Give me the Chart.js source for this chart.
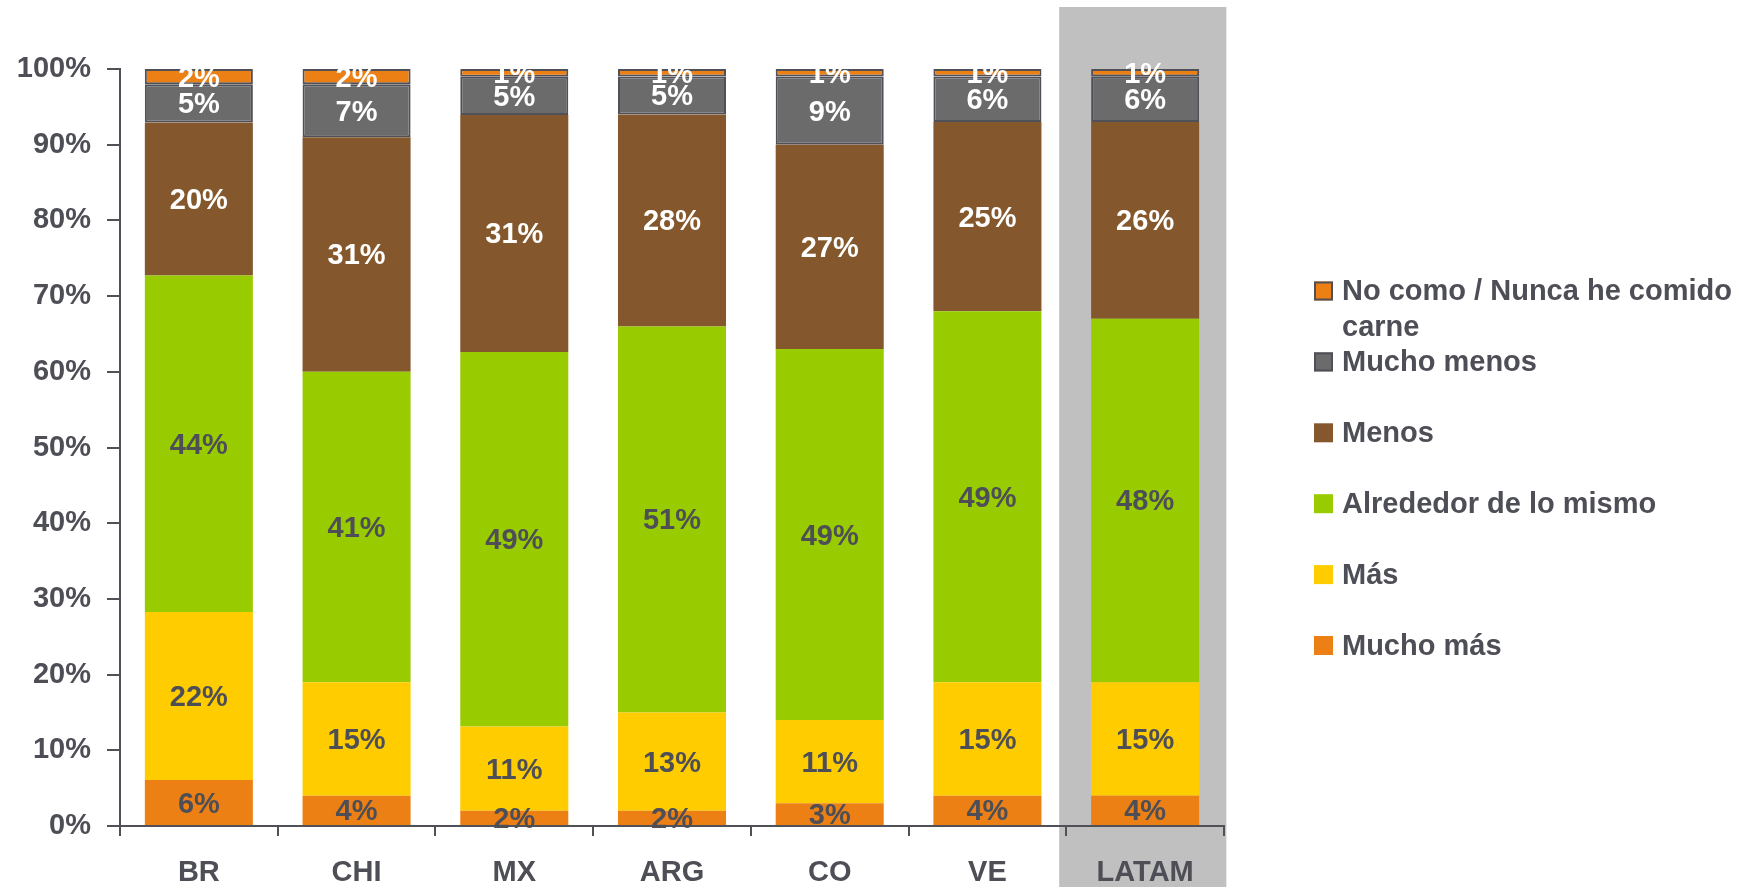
<!DOCTYPE html>
<html>
<head>
<meta charset="utf-8">
<script src="https://cdn.jsdelivr.net/npm/chart.js@4.4.1/dist/chart.umd.min.js"></script>
<style>
  html, body { margin: 0; padding: 0; background: #ffffff; }
  #wrap { width: 1764px; height: 887px; position: relative; }
</style>
</head>
<body>
<div id="wrap"><canvas id="chart" width="1764" height="887"></canvas></div>
<script>
// Countries / regions on the x axis
const categories = ['BR', 'CHI', 'MX', 'ARG', 'CO', 'VE', 'LATAM'];

// Answer shares in percent, bottom of the stack to top
const muchoMas   = [6, 4, 2, 2, 3, 4, 4];
const mas        = [22, 15, 11, 13, 11, 15, 15];
const alrededor  = [44, 41, 49, 51, 49, 49, 48];
const menos      = [20, 31, 31, 28, 27, 25, 26];
const muchoMenos = [5, 7, 5, 5, 9, 6, 6];
const noComo     = [2, 2, 1, 1, 1, 1, 1];

const seriesNames = ['Mucho más', 'Más', 'Alrededor de lo mismo', 'Menos', 'Mucho menos', 'No como / Nunca he comido carne'];
const seriesValues = [muchoMas, mas, alrededor, menos, muchoMenos, noComo];

// y-axis tick values (rendered with a % sign)
const yTicks = [0, 10, 20, 30, 40, 50, 60, 70, 80, 90, 100];

const TEXT = '#4d4e56';
const EDGE = '#505058';
const colors = ['#ec8015', '#ffcc00', '#99cc00', '#84582c', '#6b6b6b', '#ec8015'];
const borders = [0, 0, 0, 0, 2, 2];
const labelColors = [TEXT, TEXT, TEXT, '#ffffff', '#ffffff', '#ffffff'];
const highlighted = 'LATAM';

// 100% stacked: each bar is normalised by its column total
const totals = categories.map((_, i) => seriesValues.reduce((s, arr) => s + arr[i], 0));

const datasets = seriesNames.map((name, k) => ({
  label: name,
  data: seriesValues[k].map((v, i) => v / totals[i] * 100),
  raw: seriesValues[k],
  backgroundColor: colors[k],
  borderColor: EDGE,
  borderWidth: borders[k],
  borderSkipped: false,
  labelColor: labelColors[k],
  categoryPercentage: 1,
  barPercentage: 0.685
}));

const FONT = "'Liberation Sans', Arial, sans-serif";

// Grey panel behind the regional total column
const highlightPlugin = {
  id: 'highlight',
  beforeDraw(chart) {
    const x = chart.scales.x;
    const idx = categories.indexOf(highlighted);
    if (idx < 0) return;
    const cw = (x.right - x.left) / categories.length;
    const cx = x.getPixelForValue(idx);
    const ctx = chart.ctx;
    ctx.save();
    ctx.fillStyle = '#c0c0c0';
    ctx.fillRect(cx - cw * 0.545, chart.chartArea.top - 62, cw * 1.06, chart.height);
    ctx.restore();
  }
};

// Percentage labels centred in each segment
const valueLabels = {
  id: 'valueLabels',
  afterDatasetsDraw(chart) {
    const ctx = chart.ctx;
    ctx.save();
    ctx.font = 'bold 29px ' + FONT;
    ctx.textAlign = 'center';
    ctx.textBaseline = 'middle';
    chart.data.datasets.forEach((ds, k) => {
      const meta = chart.getDatasetMeta(k);
      meta.data.forEach((bar, i) => {
        const y = (bar.y + bar.base) / 2;
        ctx.fillStyle = ds.labelColor;
        ctx.fillText(ds.raw[i] + '%', bar.x, y + 2);
      });
    });
    ctx.restore();
  }
};

// Legend on the right, top series first
const sideLegend = {
  id: 'sideLegend',
  afterDraw(chart) {
    const ctx = chart.ctx;
    const ds = chart.data.datasets;
    const boxX = 1314, textX = 1342, startY = 291, step = 70.9, box = 19;
    ctx.save();
    ctx.font = 'bold 29px ' + FONT;
    ctx.textBaseline = 'middle';
    ctx.textAlign = 'left';
    for (let n = 0; n < ds.length; n++) {
      const d = ds[ds.length - 1 - n];
      const y = startY + n * step;
      ctx.fillStyle = d.backgroundColor;
      ctx.fillRect(boxX, y - box / 2, box, box);
      if (d.borderWidth > 0) {
        ctx.strokeStyle = EDGE;
        ctx.lineWidth = 2;
        ctx.strokeRect(boxX + 1, y - box / 2 + 1, box - 2, box - 2);
      }
      ctx.fillStyle = TEXT;
      if (n === 0) {
        ctx.fillText('No como / Nunca he comido', textX, y + 1);
        ctx.fillText('carne', textX, y + 37);
      } else {
        ctx.fillText(d.label, textX, y + 1);
      }
    }
    ctx.restore();
  }
};

Chart.defaults.font.family = FONT;
Chart.defaults.font.weight = 'bold';
Chart.defaults.font.size = 29;
Chart.defaults.color = TEXT;

new Chart(document.getElementById('chart'), {
  type: 'bar',
  data: { labels: categories, datasets },
  options: {
    responsive: false,
    animation: false,
    layout: { padding: { top: 69, right: 540, bottom: 0, left: 0 } },
    plugins: { legend: { display: false }, tooltip: { enabled: false } },
    scales: {
      x: {
        stacked: true,
        offset: true,
        afterFit(s) { s.height = 61; },
        border: { display: true, color: EDGE, width: 2 },
        grid: { display: true, offset: true, drawOnChartArea: false, drawTicks: true, tickLength: 10, color: EDGE, lineWidth: 2 },
        ticks: { padding: 20, color: TEXT, font: { size: 29, weight: 'bold' } }
      },
      y: {
        stacked: true,
        min: 0,
        max: 100,
        afterFit(s) { s.width = 120; },
        afterBuildTicks(s) { s.ticks = yTicks.map(v => ({ value: v })); },
        border: { display: true, color: EDGE, width: 2 },
        grid: { display: true, drawOnChartArea: false, drawTicks: true, tickLength: 13, color: EDGE, lineWidth: 2 },
        ticks: { padding: 16, color: TEXT, font: { size: 29, weight: 'bold' }, callback: v => v + '%' }
      }
    }
  },
  plugins: [highlightPlugin, valueLabels, sideLegend]
});
</script>
</body>
</html>
